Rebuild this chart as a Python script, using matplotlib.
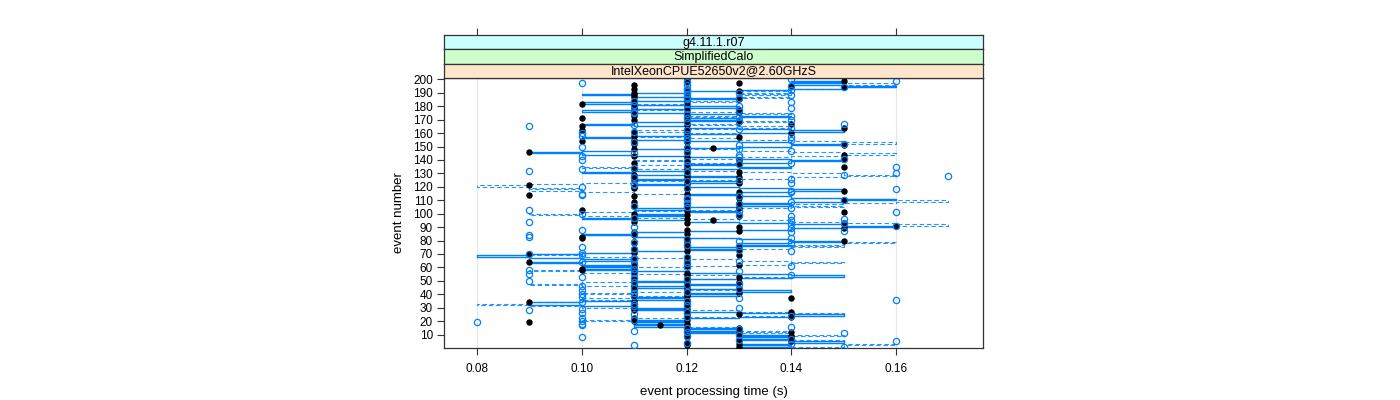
import matplotlib
matplotlib.use('Agg')
import matplotlib.pyplot as plt

events = list(range(1, 201))

# points, run A: black filled dots
time_a = [
    0.13, 0.12, 0.13, 0.12, 0.14, 0.13, 0.14, 0.12, 0.14, 0.13,
    0.12, 0.14, 0.13, 0.12, 0.13, 0.12, 0.115, 0.12, 0.09, 0.11,
    0.12, 0.11, 0.14, 0.12, 0.13, 0.12, 0.14, 0.11, 0.12, 0.11,
    0.12, 0.11, 0.12, 0.09, 0.11, 0.12, 0.14, 0.11, 0.12, 0.12,
    0.13, 0.12, 0.11, 0.12, 0.13, 0.12, 0.11, 0.12, 0.13, 0.12,
    0.11, 0.12, 0.13, 0.12, 0.11, 0.12, 0.11, 0.10, 0.10, 0.11,
    0.12, 0.13, 0.11, 0.09, 0.12, 0.11, 0.12, 0.12, 0.13, 0.09,
    0.11, 0.12, 0.13, 0.11, 0.12, 0.13, 0.12, 0.11, 0.12, 0.15,
    0.12, 0.10, 0.10, 0.11, 0.12, 0.11, 0.13, 0.12, 0.15, 0.13,
    0.16, 0.15, 0.12, 0.11, 0.125, 0.12, 0.11, 0.13, 0.12, 0.11,
    0.15, 0.12, 0.10, 0.13, 0.12, 0.11, 0.12, 0.13, 0.11, 0.15,
    0.12, 0.13, 0.11, 0.09, 0.12, 0.13, 0.15, 0.12, 0.11, 0.11,
    0.09, 0.12, 0.13, 0.12, 0.11, 0.12, 0.13, 0.12, 0.11, 0.12,
    0.13, 0.12, 0.11, 0.12, 0.15, 0.12, 0.13, 0.11, 0.12, 0.13,
    0.15, 0.12, 0.11, 0.15, 0.12, 0.09, 0.12, 0.11, 0.125, 0.12,
    0.15, 0.11, 0.12, 0.10, 0.11, 0.12, 0.13, 0.11, 0.12, 0.14,
    0.11, 0.10, 0.12, 0.15, 0.10, 0.12, 0.14, 0.13, 0.12, 0.11,
    0.10, 0.12, 0.11, 0.11, 0.12, 0.13, 0.13, 0.12, 0.11, 0.12,
    0.11, 0.10, 0.12, 0.11, 0.13, 0.12, 0.11, 0.11, 0.12, 0.11,
    0.13, 0.12, 0.11, 0.15, 0.14, 0.11, 0.13, 0.12, 0.15, 0.12,
]

# points, run B: blue open circles
time_b = [
    0.15, 0.11, 0.14, 0.12, 0.16, 0.13, 0.14, 0.10, 0.12, 0.13,
    0.15, 0.12, 0.11, 0.13, 0.12, 0.14, 0.10, 0.10, 0.08, 0.10,
    0.11, 0.10, 0.12, 0.14, 0.11, 0.10, 0.12, 0.09, 0.10, 0.13,
    0.11, 0.12, 0.11, 0.10, 0.12, 0.16, 0.13, 0.10, 0.11, 0.10,
    0.11, 0.12, 0.10, 0.13, 0.11, 0.10, 0.12, 0.13, 0.11, 0.09,
    0.12, 0.11, 0.10, 0.14, 0.09, 0.11, 0.13, 0.09, 0.11, 0.12,
    0.14, 0.11, 0.12, 0.10, 0.13, 0.11, 0.11, 0.12, 0.10, 0.09,
    0.10, 0.14, 0.13, 0.11, 0.10, 0.13, 0.12, 0.14, 0.11, 0.13,
    0.12, 0.14, 0.09, 0.09, 0.11, 0.14, 0.15, 0.10, 0.14, 0.11,
    0.16, 0.14, 0.15, 0.09, 0.14, 0.15, 0.11, 0.14, 0.13, 0.10,
    0.16, 0.13, 0.09, 0.14, 0.12, 0.11, 0.13, 0.12, 0.14, 0.15,
    0.12, 0.12, 0.13, 0.10, 0.10, 0.14, 0.14, 0.16, 0.12, 0.10,
    0.11, 0.11, 0.14, 0.12, 0.13, 0.14, 0.11, 0.17, 0.15, 0.16,
    0.12, 0.09, 0.10, 0.11, 0.16, 0.12, 0.13, 0.14, 0.12, 0.10,
    0.15, 0.13, 0.10, 0.13, 0.11, 0.12, 0.14, 0.13, 0.12, 0.10,
    0.13, 0.15, 0.11, 0.12, 0.14, 0.12, 0.14, 0.10, 0.12, 0.10,
    0.11, 0.12, 0.13, 0.14, 0.09, 0.11, 0.15, 0.12, 0.13, 0.14,
    0.12, 0.13, 0.14, 0.12, 0.11, 0.11, 0.13, 0.12, 0.14, 0.13,
    0.11, 0.12, 0.14, 0.11, 0.12, 0.13, 0.12, 0.14, 0.12, 0.13,
    0.12, 0.14, 0.12, 0.15, 0.14, 0.12, 0.10, 0.12, 0.16, 0.14,
]

# step line, solid
line_a = [
    0.13, 0.14, 0.13, 0.14, 0.15, 0.14, 0.13, 0.14, 0.13, 0.14,
    0.13, 0.12, 0.13, 0.12, 0.13, 0.12, 0.11, 0.12, 0.11, 0.12,
    0.11, 0.12, 0.13, 0.14, 0.15, 0.14, 0.13, 0.12, 0.11, 0.12,
    0.11, 0.10, 0.09, 0.09, 0.10, 0.11, 0.12, 0.11, 0.12, 0.13,
    0.12, 0.13, 0.14, 0.13, 0.12, 0.11, 0.12, 0.13, 0.12, 0.11,
    0.12, 0.13, 0.14, 0.15, 0.14, 0.13, 0.12, 0.11, 0.10, 0.11,
    0.10, 0.11, 0.10, 0.09, 0.10, 0.11, 0.10, 0.09, 0.08, 0.09,
    0.10, 0.11, 0.12, 0.13, 0.12, 0.13, 0.14, 0.13, 0.14, 0.15,
    0.14, 0.13, 0.12, 0.11, 0.10, 0.11, 0.12, 0.13, 0.14, 0.15,
    0.16, 0.15, 0.14, 0.13, 0.12, 0.11, 0.10, 0.11, 0.12, 0.11,
    0.12, 0.13, 0.12, 0.11, 0.12, 0.13, 0.14, 0.13, 0.14, 0.15,
    0.16, 0.15, 0.14, 0.13, 0.12, 0.13, 0.14, 0.15, 0.14, 0.13,
    0.12, 0.11, 0.12, 0.13, 0.12, 0.11, 0.12, 0.13, 0.12, 0.11,
    0.10, 0.11, 0.12, 0.13, 0.14, 0.13, 0.12, 0.13, 0.14, 0.15,
    0.14, 0.13, 0.12, 0.11, 0.10, 0.09, 0.10, 0.11, 0.12, 0.13,
    0.14, 0.15, 0.14, 0.13, 0.12, 0.11, 0.10, 0.11, 0.12, 0.13,
    0.14, 0.15, 0.14, 0.13, 0.12, 0.11, 0.10, 0.11, 0.12, 0.13,
    0.12, 0.13, 0.14, 0.13, 0.12, 0.11, 0.10, 0.11, 0.12, 0.13,
    0.12, 0.11, 0.10, 0.11, 0.12, 0.13, 0.12, 0.11, 0.10, 0.11,
    0.12, 0.13, 0.14, 0.15, 0.16, 0.15, 0.14, 0.15, 0.14, 0.15,
]

# step line, dashed
line_b = [
    0.14, 0.15, 0.16, 0.15, 0.14, 0.15, 0.14, 0.13, 0.14, 0.15,
    0.14, 0.13, 0.14, 0.13, 0.12, 0.13, 0.12, 0.11, 0.12, 0.11,
    0.10, 0.11, 0.12, 0.13, 0.14, 0.15, 0.14, 0.13, 0.12, 0.11,
    0.10, 0.09, 0.08, 0.09, 0.10, 0.11, 0.10, 0.11, 0.12, 0.11,
    0.10, 0.11, 0.12, 0.13, 0.12, 0.11, 0.10, 0.09, 0.10, 0.11,
    0.12, 0.13, 0.14, 0.13, 0.12, 0.11, 0.10, 0.09, 0.10, 0.11,
    0.12, 0.13, 0.14, 0.15, 0.14, 0.13, 0.12, 0.11, 0.10, 0.09,
    0.10, 0.11, 0.12, 0.13, 0.14, 0.15, 0.14, 0.15, 0.16, 0.15,
    0.14, 0.13, 0.12, 0.11, 0.10, 0.11, 0.12, 0.13, 0.14, 0.15,
    0.16, 0.17, 0.16, 0.15, 0.14, 0.13, 0.12, 0.11, 0.10, 0.09,
    0.10, 0.11, 0.12, 0.13, 0.14, 0.15, 0.14, 0.15, 0.16, 0.17,
    0.16, 0.15, 0.14, 0.13, 0.12, 0.11, 0.10, 0.09, 0.10, 0.09,
    0.08, 0.09, 0.10, 0.11, 0.12, 0.13, 0.14, 0.15, 0.16, 0.15,
    0.14, 0.13, 0.12, 0.11, 0.10, 0.11, 0.12, 0.13, 0.12, 0.11,
    0.12, 0.13, 0.14, 0.15, 0.16, 0.15, 0.14, 0.13, 0.12, 0.13,
    0.14, 0.15, 0.16, 0.15, 0.14, 0.13, 0.12, 0.11, 0.12, 0.13,
    0.12, 0.11, 0.12, 0.13, 0.14, 0.13, 0.12, 0.13, 0.14, 0.13,
    0.12, 0.13, 0.12, 0.13, 0.14, 0.13, 0.12, 0.11, 0.12, 0.13,
    0.12, 0.11, 0.12, 0.13, 0.12, 0.13, 0.14, 0.13, 0.14, 0.13,
    0.14, 0.13, 0.14, 0.15, 0.16, 0.15, 0.16, 0.15, 0.14, 0.15,
]

x_ticks = [0.08, 0.10, 0.12, 0.14, 0.16]
x_tick_labels = ["0.08", "0.10", "0.12", "0.14", "0.16"]
y_ticks = list(range(10, 201, 10))
strip_labels = ["g4.11.1.r07", "SimplifiedCalo", "IntelXeonCPUE52650v2@2.60GHzS"]
strip_colors = ["#ccffff", "#ccffcc", "#ffe5cc"]
x_label = "event processing time (s)"
y_label = "event number"

plt.rcParams['font.family'] = ['Liberation Sans', 'DejaVu Sans']

W, H = 1400, 400
fig = plt.figure(figsize=(14, 4), dpi=100)
L, R = 444 / W, 983 / W
PB, PT = 1 - 348 / H, 1 - 78 / H
XLIM = (0.0737, 0.1766)
frame_col = '#333333'

ax = fig.add_axes([L, PB, R - L, PT - PB])
ax.set_xlim(*XLIM)
ax.set_ylim(0, 201)
for xt in x_ticks:
    ax.axvline(xt, color='#e6e6e6', lw=0.8, zorder=0)

blue = '#0080ff'
ax.plot(line_a, events, drawstyle='steps-post', color=blue, lw=1.0, zorder=2)
ax.plot(line_b, events, drawstyle='steps-post', color=blue, lw=0.8,
        ls=(0, (4, 2.5)), alpha=0.85, zorder=3)
ax.plot(time_a, events, 'o', ms=3.6, color='black', ls='none', zorder=4)
ax.plot(time_b, events, 'o', ms=4.5, mfc='none', mec=blue, mew=0.9, ls='none', zorder=5)

ax.set_xticks(x_ticks)
ax.set_xticklabels(x_tick_labels)
ax.set_yticks(y_ticks)
ax.tick_params(axis='both', direction='out', length=5, width=0.8, color=frame_col,
               labelsize=8.5, pad=3)
ax.tick_params(axis='x', pad=6)
for s in ax.spines.values():
    s.set_color(frame_col)
    s.set_linewidth(0.9)
ax.set_xlabel(x_label, fontsize=9.5, labelpad=8)
ax.set_ylabel(y_label, fontsize=9.5, labelpad=6)

# strips
strip_h = (78 - 35) / 3 / H
for i, (lab, col) in enumerate(zip(strip_labels, strip_colors)):
    bottom = 1 - 35 / H - (i + 1) * strip_h
    sax = fig.add_axes([L, bottom, R - L, strip_h])
    sax.set_xlim(*XLIM)
    sax.set_ylim(0, 1)
    sax.set_facecolor(col)
    sax.set_yticks([])
    for s in sax.spines.values():
        s.set_color(frame_col)
        s.set_linewidth(0.9)
    if i == 0:
        sax.xaxis.set_ticks_position('top')
        sax.set_xticks(x_ticks)
        sax.tick_params(axis='x', direction='out', length=5, width=0.8,
                        color=frame_col, labeltop=False, labelbottom=False)
    else:
        sax.set_xticks([])
    sax.text(0.5, 0.47, lab, transform=sax.transAxes, ha='center', va='center',
             fontsize=9)

fig.savefig('out.png', dpi=100)
